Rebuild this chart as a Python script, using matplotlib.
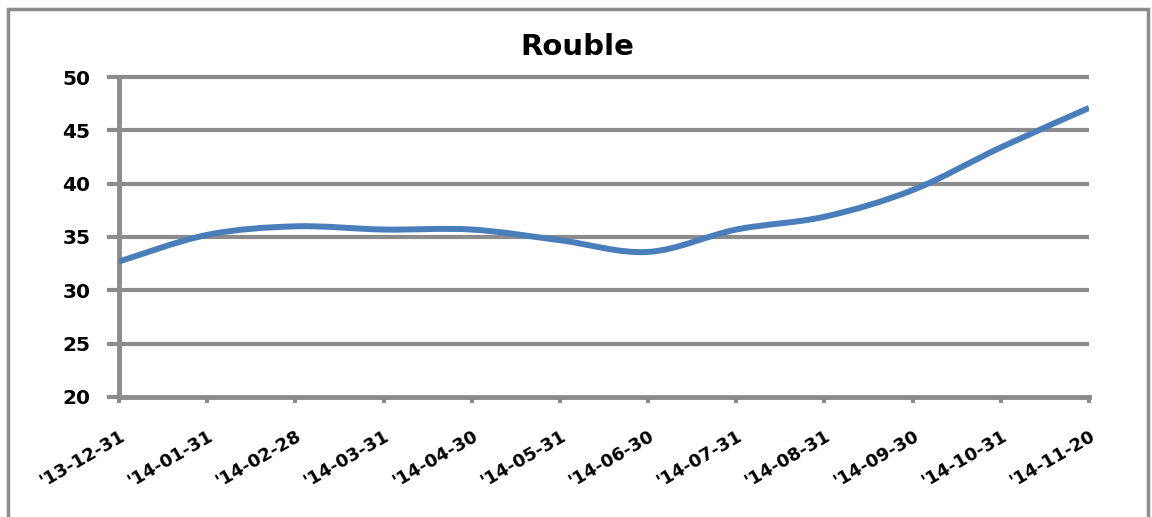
import numpy as np
import matplotlib
matplotlib.use("Agg")
import matplotlib.pyplot as plt
from matplotlib.path import Path
from matplotlib.patches import PathPatch, Rectangle

# Month-end RUB/USD rates
dates = ["'13-12-31", "'14-01-31", "'14-02-28", "'14-03-31", "'14-04-30",
         "'14-05-31", "'14-06-30", "'14-07-31", "'14-08-31", "'14-09-30",
         "'14-10-31", "'14-11-20"]
rouble = [32.7, 35.2, 36.0, 35.7, 35.7, 34.7, 33.6, 35.7, 36.9, 39.4, 43.4, 47.1]
y_ticks = [20, 25, 30, 35, 40, 45, 50]

LINE_BLUE = "#4a7ebb"
GRID_GREY = "#8c8c8c"

fig = plt.figure(figsize=(11.52, 5.17), dpi=100)
fig.patch.set_facecolor("white")

# chart border
fig.patches.append(Rectangle((8 / 1152, -0.05), 1140 / 1152, 1.05 - 9 / 517,
                             transform=fig.transFigure, fill=False,
                             edgecolor="#8c8c8c", linewidth=2.5))

ax = fig.add_axes([119 / 1152, 1 - 397 / 517, (1089 - 119) / 1152, (397 - 77) / 517])

x = np.arange(len(rouble))
y = np.asarray(rouble, dtype=float)

# smoothed line: cubic Bezier segments through each data point
verts = [(x[0], y[0])]
codes = [Path.MOVETO]
for i in range(len(x) - 1):
    p0 = (x[i - 1], y[i - 1]) if i > 0 else (x[i], y[i])
    p1 = (x[i], y[i])
    p2 = (x[i + 1], y[i + 1])
    p3 = (x[i + 2], y[i + 2]) if i + 2 < len(x) else (x[i + 1], y[i + 1])
    c1 = (p1[0] + (p2[0] - p0[0]) / 6, p1[1] + (p2[1] - p0[1]) / 6)
    c2 = (p2[0] - (p3[0] - p1[0]) / 6, p2[1] - (p3[1] - p1[1]) / 6)
    verts += [c1, c2, p2]
    codes += [Path.CURVE4] * 3
ax.add_patch(PathPatch(Path(verts, codes), facecolor="none", edgecolor=LINE_BLUE,
                       linewidth=4.3, capstyle="butt", joinstyle="round", zorder=3))

ax.set_xlim(0, len(rouble) - 1)
ax.set_ylim(20, 50)
ax.set_yticks(y_ticks)
ax.set_xticks(x)
ax.set_xticklabels(dates)

for val in y_ticks[1:]:
    ax.axhline(val, color=GRID_GREY, linewidth=3, zorder=1, clip_on=False,
               solid_capstyle="butt")

for side in ("top", "right"):
    ax.spines[side].set_visible(False)
ax.spines["left"].set_color(GRID_GREY)
ax.spines["left"].set_linewidth(3.5)
ax.spines["bottom"].set_color(GRID_GREY)
ax.spines["bottom"].set_linewidth(3.5)
ax.spines["left"].set_zorder(2)

ax.tick_params(axis="y", length=8.6, width=3, color=GRID_GREY, pad=12,
               labelsize=14.5)
ax.tick_params(axis="x", length=4.5, width=3, color=GRID_GREY, pad=17,
               labelsize=13)
for lbl in ax.get_yticklabels():
    lbl.set_fontweight("bold")
for lbl in ax.get_xticklabels():
    lbl.set_fontweight("bold")
    lbl.set_rotation(30)
    lbl.set_ha("right")
    lbl.set_va("top")
    lbl.set_rotation_mode("anchor")

fig.text(577 / 1152, 1 - 47 / 517, "Rouble", fontsize=21, fontweight="bold",
         ha="center", va="center")

fig.savefig("out.png", dpi=100, facecolor="white")
